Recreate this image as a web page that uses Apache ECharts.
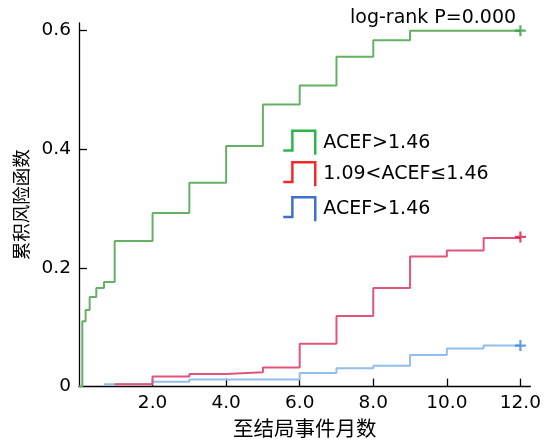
<!DOCTYPE html>
<html>
<head>
<meta charset="utf-8">
<script src="https://cdn.jsdelivr.net/npm/echarts@6/dist/echarts.min.js"></script>
<style>html,body{margin:0;padding:0;background:#fff}#c{width:544px;height:443px}</style>
</head>
<body>
<div id="c"></div>
<script>
// ---- data ----
const greenTimes  = [0, 0.09, 0.18, 0.29, 0.47, 0.68, 0.97, 2, 3, 4, 5, 6, 7, 8, 9, 12];
const greenValues = [0, 0.110, 0.129, 0.151, 0.166, 0.176, 0.245, 0.292, 0.343, 0.405, 0.475, 0.507, 0.555, 0.583, 0.599, 0.599];
const redTimes    = [0.97, 2, 3, 4, 5, 6, 7, 8, 9, 10, 11, 12];
const redValues   = [0.004, 0.017, 0.021, 0.024, 0.032, 0.072, 0.119, 0.166, 0.219, 0.229, 0.250, 0.250];
const blueTimes   = [0.68, 2, 3, 6, 7, 8, 9, 10, 11, 12];
const blueValues  = [0.004, 0.008, 0.012, 0.023, 0.031, 0.035, 0.053, 0.064, 0.069, 0.069];
const censorTime  = [12, 12, 12];
const censorValue = [0.599, 0.252, 0.069];
const seriesNames = ['ACEF>1.46', '1.09<ACEF≤1.46', 'ACEF>1.46 '];
const xTicks = [2, 4, 6, 8, 10, 12];
const yTicks = [0.2, 0.4, 0.6];
const yLabels = [0, 0.2, 0.4, 0.6];
const pText = 'log-rank P=0.000';
const xName = '至结局事件月数';
const yName = '累积风险函数';

const zip = (a, b) => a.map((t, i) => [t, b[i]]);
const FONT = 'DejaVu Sans';
const lineColors = ['#66b066', '#e2557a', '#92bdec'];
const markColors = ['#2e9a3e', '#dc1846', '#3d84dc'];
const iconColors = ['#2cb64e', '#f42a2a', '#3f6fcc'];
const iconPath = 'path://M0,19.6H9V0H31.6V23.6';

function legendFor(i, top) {
  return {
    orient: 'vertical', left: 282, top: top, padding: 0,
    itemWidth: 32, itemHeight: 24, selectedMode: false,
    textStyle: { fontFamily: FONT, fontSize: 19, color: '#000', padding: [0, 0, 0, 3] },
    data: [{ name: seriesNames[i], icon: iconPath,
      itemStyle: { color: 'rgba(0,0,0,0)', borderColor: iconColors[i], borderWidth: 2.5 } }]
  };
}

const chart = echarts.init(document.getElementById('c'), null, { renderer: 'canvas' });
chart.setOption({
  animation: false,
  backgroundColor: '#fff',
  title: { text: pText, left: 350, top: 9, padding: 0,
    textStyle: { fontFamily: FONT, fontSize: 19, fontWeight: 'normal', color: '#000' } },
  legend: [legendFor(0, 129.5), legendFor(1, 161), legendFor(2, 196)],
  grid: { left: 79, right: 11, top: 23, bottom: 53, containLabel: false },
  xAxis: {
    type: 'value', min: 0, max: 12.27,
    name: xName, nameLocation: 'middle', nameGap: 27,
    nameTextStyle: { fontFamily: 'Noto Sans CJK SC', fontSize: 20.5, color: '#000' },
    axisLine: { show: true, onZero: false, lineStyle: { color: '#000', width: 1.3 } },
    axisTick: { show: true, inside: true, length: 8, customValues: xTicks, lineStyle: { color: '#000', width: 1.3 } },
    axisLabel: { customValues: xTicks, margin: 7, fontFamily: FONT, fontSize: 18.5, color: '#000',
      formatter: v => v.toFixed(1) },
    splitLine: { show: false }
  },
  yAxis: {
    type: 'value', min: 0, max: 0.612,
    name: yName, nameLocation: 'middle', nameGap: 46, nameRotate: 90,
    nameTextStyle: { fontFamily: 'Noto Sans CJK SC', fontSize: 18.5, color: '#000' },
    axisLine: { show: true, onZero: false, lineStyle: { color: '#000', width: 1.3 } },
    axisTick: { show: true, inside: true, length: 8, customValues: yTicks, lineStyle: { color: '#000', width: 1.3 } },
    axisLabel: { customValues: yLabels, margin: 8, fontFamily: FONT, fontSize: 18.5, color: '#000',
      formatter: v => (v === 0 ? '0' : v.toFixed(1)) },
    splitLine: { show: false }
  },
  series: [
    { name: seriesNames[0], type: 'line', step: 'end', symbol: 'none', data: zip(greenTimes, greenValues),
      lineStyle: { color: lineColors[0], width: 2 }, itemStyle: { color: lineColors[0] }, z: 2 },
    { name: seriesNames[2], type: 'line', step: 'end', symbol: 'none', data: zip(blueTimes, blueValues),
      lineStyle: { color: lineColors[2], width: 2 }, itemStyle: { color: lineColors[2] }, z: 2 },
    { name: seriesNames[1], type: 'line', step: 'end', symbol: 'none', data: zip(redTimes, redValues),
      lineStyle: { color: lineColors[1], width: 2 }, itemStyle: { color: lineColors[1] }, z: 3 },
    { type: 'scatter', symbol: 'path://M-5,0H5M0,-5V5', symbolSize: 11, z: 4,
      data: censorTime.map((t, i) => ({ value: [t, censorValue[i]],
        itemStyle: { color: markColors[i], borderColor: markColors[i], borderWidth: 2.2 } })) }
  ]
});
</script>
</body>
</html>
